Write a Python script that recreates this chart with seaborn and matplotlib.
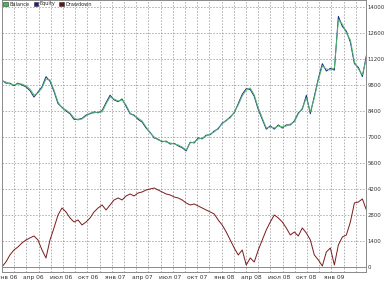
import numpy as np
import pandas as pd
import matplotlib
matplotlib.use("Agg")
import matplotlib.pyplot as plt
import matplotlib.dates as mdates
from matplotlib.patches import Patch
import seaborn as sns

# ---- data ----
balance = [10016, 9962, 9855, 9801, 9855, 9855, 9747, 9585, 9262, 9370, 9639, 10124,
           10070, 9531, 8885, 8562, 8454, 8293, 8024, 7916, 7970, 8131, 8293, 8293,
           8347, 8347, 8777, 9155, 9047, 8939, 8993, 8724, 8293, 8131, 8024, 7862,
           7539, 7216, 7000, 6839, 6785, 6731, 6678, 6624, 6570, 6462, 6300, 6678,
           6731, 6893, 6947, 7054, 7162, 7270, 7485, 7701, 7916, 8024, 8347, 8724,
           9208, 9531, 9639, 9262, 8562, 8024, 7485, 7539, 7485, 7593, 7539, 7593,
           7701, 7808, 8239, 8562, 9101, 8347, 9101, 10070, 10824, 10662, 10608, 10716,
           13301, 13086, 12601, 12224, 11039, 10662, 10339, 11255]
equity = [10060, 9900, 9900, 9760, 9900, 9800, 9700, 9500, 9150, 9420, 9700, 10250,
          10000, 9450, 8800, 8600, 8400, 8250, 7950, 7950, 8000, 8180, 8250, 8350,
          8300, 8420, 8850, 9250, 9000, 8900, 9050, 8650, 8250, 8180, 7950, 7800,
          7480, 7250, 6950, 6880, 6740, 6780, 6620, 6660, 6520, 6420, 6250, 6720,
          6680, 6950, 6900, 7100, 7120, 7320, 7440, 7750, 7880, 8080, 8300, 8800,
          9300, 9600, 9560, 9180, 8480, 7950, 7420, 7600, 7420, 7650, 7480, 7650,
          7650, 7860, 8300, 8500, 9250, 8250, 9200, 10150, 10950, 10550, 10700, 10600,
          13500, 12950, 12700, 12100, 10950, 10750, 10250, 11400]
drawdown = [0, 269, 646, 915, 1077, 1292, 1454, 1562, 1669, 1454, 915, 485,
            1454, 2100, 2800, 3177, 2962, 2639, 2423, 2531, 2262, 2423, 2639, 2962,
            3177, 3339, 3069, 3339, 3608, 3716, 3608, 3823, 3931, 3823, 3985, 4039,
            4146, 4200, 4254, 4146, 4039, 3931, 3877, 3770, 3716, 3608, 3446, 3339,
            3393, 3285, 3177, 3069, 2962, 2854, 2531, 2262, 1885, 1454, 1023, 646,
            915, 108, 485, 269, 915, 1454, 1992, 2423, 2800, 2639, 2423, 2100,
            1723, 1885, 1669, 2100, 1831, 1454, 646, 377, 54, 808, 1023, 108,
            1185, 1615, 1723, 2423, 3446, 3500, 3662, 3069]
series_names = ["Balance", "Equity", "Drawdown"]
tick_dates = ["2006-01-01", "2006-04-01", "2006-07-01", "2006-10-01", "2007-01-01",
              "2007-04-01", "2007-07-01", "2007-10-01", "2008-01-01", "2008-04-01",
              "2008-07-01", "2008-10-01", "2009-01-01"]
tick_labels = ["янв 06", "апр 06", "июл 06", "окт 06", "янв 07", "апр 07", "июл 07",
               "окт 07", "янв 08", "апр 08", "июл 08", "окт 08", "янв 09"]
y_ticks = [0, 1400, 2800, 4200, 5600, 7000, 8400, 9800, 11200, 12600, 14000]

dates = pd.date_range("2005-12-16", periods=len(balance), freq="322h")
df = pd.DataFrame({
    "date": np.concatenate([dates, dates, dates]),
    "value": balance + equity + drawdown,
    "series": np.repeat(series_names, len(balance)),
})

colors = {"Balance": "#4fb86a", "Equity": "#1c2a8a", "Drawdown": "#7a1a1a"}
legend_colors = {"Balance": "#3cc24a", "Equity": "#1a1aa0", "Drawdown": "#6a1010"}

sns.set_style("white")
fig = plt.figure(figsize=(3.84, 2.83), dpi=100)
ax = fig.add_axes([0.005, 0.039, 0.948, 0.961])

sns.lineplot(data=df[df.series == "Equity"], x="date", y="value", color=colors["Equity"],
             lw=0.7, ax=ax, legend=False)
sns.lineplot(data=df[df.series == "Balance"], x="date", y="value", color=colors["Balance"],
             lw=0.7, ax=ax, legend=False)
sns.lineplot(data=df[df.series == "Drawdown"], x="date", y="value", color=colors["Drawdown"],
             lw=0.7, ax=ax, legend=False)

x0 = pd.Timestamp("2005-12-16")
days_per_px = 13.4 / 4
ax.set_xlim(mdates.date2num(x0), mdates.date2num(x0) + 364 * days_per_px)
ax.set_ylim(-269, 14378)

# grid
for yv in y_ticks[1:]:
    ax.axhline(yv, color="#9a9a9a", lw=0.55, ls=(0, (2, 2)), zorder=0)
ax.axhline(0, color="#8a8a8a", lw=0.7, zorder=0)
start = mdates.date2num(x0)
k = 1
while 12.2 * k < 364:
    ax.axvline(start + 12.2 * k * days_per_px, color="#9a9a9a", lw=0.55, ls=(0, (2, 2)), zorder=0)
    k += 1

ax.set_xticks(mdates.date2num(pd.to_datetime(tick_dates)))
ax.set_xticklabels(tick_labels, fontsize=4.3, color="#333333")
ax.yaxis.tick_right()
ax.set_yticks(y_ticks)
ax.set_yticklabels([str(v) for v in y_ticks], fontsize=3.9, color="#333333")
ax.tick_params(axis="x", length=0, pad=2)
ax.tick_params(axis="y", length=0, pad=1.2)
ax.set_xlabel("")
ax.set_ylabel("")
for s in ax.spines.values():
    s.set_color("#8a8a8a")
    s.set_linewidth(0.7)

handles = [Patch(facecolor=legend_colors[n], edgecolor="#333333", lw=0.4, label=n) for n in series_names]
ax.legend(handles=handles, loc="upper left", ncol=3, fontsize=3.6, frameon=False,
          handlelength=0.9, handleheight=0.9, handletextpad=0.3, columnspacing=0.8,
          borderaxespad=0.2, borderpad=0.1)

fig.savefig("out.png", dpi=100)
